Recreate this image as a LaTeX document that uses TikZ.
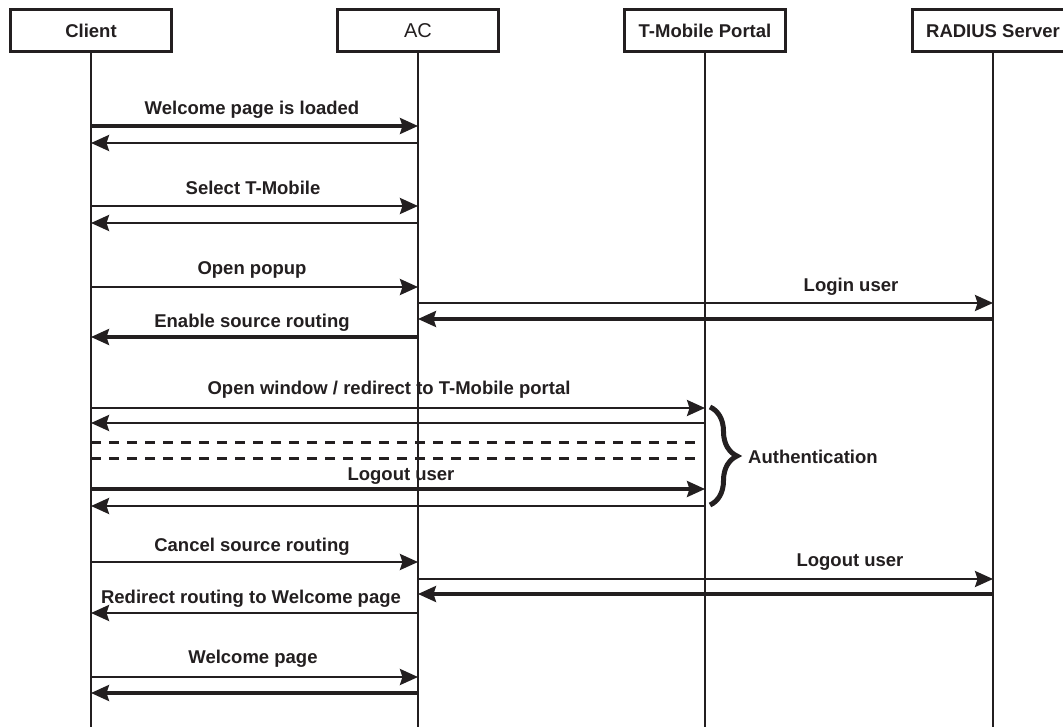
\documentclass[tikz,border=0pt]{standalone}
\usepackage{fontspec}
\setmainfont{Liberation Sans}
\usetikzlibrary{arrows.meta,decorations.pathreplacing}
\definecolor{ink}{RGB}{35,31,32}
\begin{document}
\begin{tikzpicture}[x=1pt,y=-1pt, color=ink,
  actor/.style={draw=ink, line width=3.2pt, minimum width=161pt, minimum height=42pt,
    inner sep=0pt, text height=15pt, text depth=0pt, text=ink,
    font=\fontsize{18.5}{22}\selectfont\bfseries},
  life/.style={draw=ink, line width=2.4pt},
  msg/.style={draw=ink, line width=2.6pt, -{Stealth[length=18pt,width=16pt,inset=2.5pt]}},
  msgb/.style={msg, line width=3.1pt},
  dashmsg/.style={draw=ink, line width=3pt, dash pattern=on 10pt off 8pt},
  lbl/.style={anchor=base, inner sep=0pt, text=ink,
    font=\fontsize{18.5}{22}\selectfont\bfseries},
]
\useasboundingbox (0,0) rectangle (1063,727);
\clip (0,0) rectangle (1063,727);
\fill[white] (0,0) rectangle (1063,727);

% actors
\node[actor] (client) at (91,30.5) {Client};
\node[actor, font=\fontsize{20}{24}\selectfont] (ac) at (418,30.5) {AC};
\node[actor] (portal) at (705,30.5) {T-Mobile Portal};
\node[actor] (radius) at (993,30.5) {RADIUS Server};

% lifelines
\coordinate (clientEnd) at (91,727);
\coordinate (acEnd) at (418,727);
\coordinate (portalEnd) at (705,727);
\coordinate (radiusEnd) at (993,727);
\draw[life] (client.south) -- (clientEnd);
\draw[life] (ac.south) -- (acEnd);
\draw[life] (portal.south) -- (portalEnd);
\draw[life] (radius.south) -- (radiusEnd);

% messages 1
\node[lbl] (l1) at (252,115) {Welcome page is loaded};
\draw[msgb] (client.center |- 0,126) -- (ac.center |- 0,126);
\draw[msg] (ac.center |- 0,143) -- (client.center |- 0,143);

% 2
\node[lbl] (l2) at (253,195) {Select T-Mobile};
\draw[msg] (client.center |- 0,206) -- (ac.center |- 0,206);
\draw[msg] (ac.center |- 0,223) -- (client.center |- 0,223);

% 3
\node[lbl] (l3) at (252,275) {Open popup};
\draw[msg] (client.center |- 0,287) -- (ac.center |- 0,287);
\node[lbl] (l4) at (851,292) {Login user};
\draw[msg] (ac.center |- 0,303) -- (radius.center |- 0,303);
\draw[msgb] (radius.center |- 0,319) -- (ac.center |- 0,319);
\node[lbl] (l5) at (252,327) {Enable source routing};
\draw[msgb] (ac.center |- 0,337) -- (client.center |- 0,337);

% 4
\node[lbl] (l6) at (389,394) {Open window / redirect to T-Mobile portal};
\draw[msg] (client.center |- 0,408) -- (portal.center |- 0,408);
\draw[msg] (portal.center |- 0,423) -- (client.center |- 0,423);
\coordinate (d1) at (697,442);
\coordinate (d2) at (697,458);
\draw[dashmsg] (client.center |- 0,442) -- (d1);
\draw[dashmsg] (client.center |- 0,458) -- (d2);
\node[lbl] (l7) at (401,480) {Logout user};
\draw[msgb] (client.center |- 0,489) -- (portal.center |- 0,489);
\draw[msg] (portal.center |- 0,506) -- (client.center |- 0,506);

% brace
\coordinate (bt) at (710,407);
\coordinate (bb) at (710,505);
\draw[draw=ink, line width=5pt, decorate, decoration={brace, amplitude=27pt}] (bt) -- (bb);
\node[lbl, anchor=base west] (auth) at (748,463) {Authentication};

% 5
\node[lbl] (l8) at (252,551) {Cancel source routing};
\draw[msg] (client.center |- 0,562) -- (ac.center |- 0,562);
\node[lbl] (l9) at (850,566) {Logout user};
\draw[msg] (ac.center |- 0,579) -- (radius.center |- 0,579);
\draw[msgb] (radius.center |- 0,594) -- (ac.center |- 0,594);
\node[lbl] (l10) at (251,603) {Redirect routing to Welcome page};
\draw[msg] (ac.center |- 0,613) -- (client.center |- 0,613);

% 6
\node[lbl] (l11) at (253,663) {Welcome page};
\draw[msg] (client.center |- 0,677) -- (ac.center |- 0,677);
\draw[msgb] (ac.center |- 0,693) -- (client.center |- 0,693);
\end{tikzpicture}
\end{document}
